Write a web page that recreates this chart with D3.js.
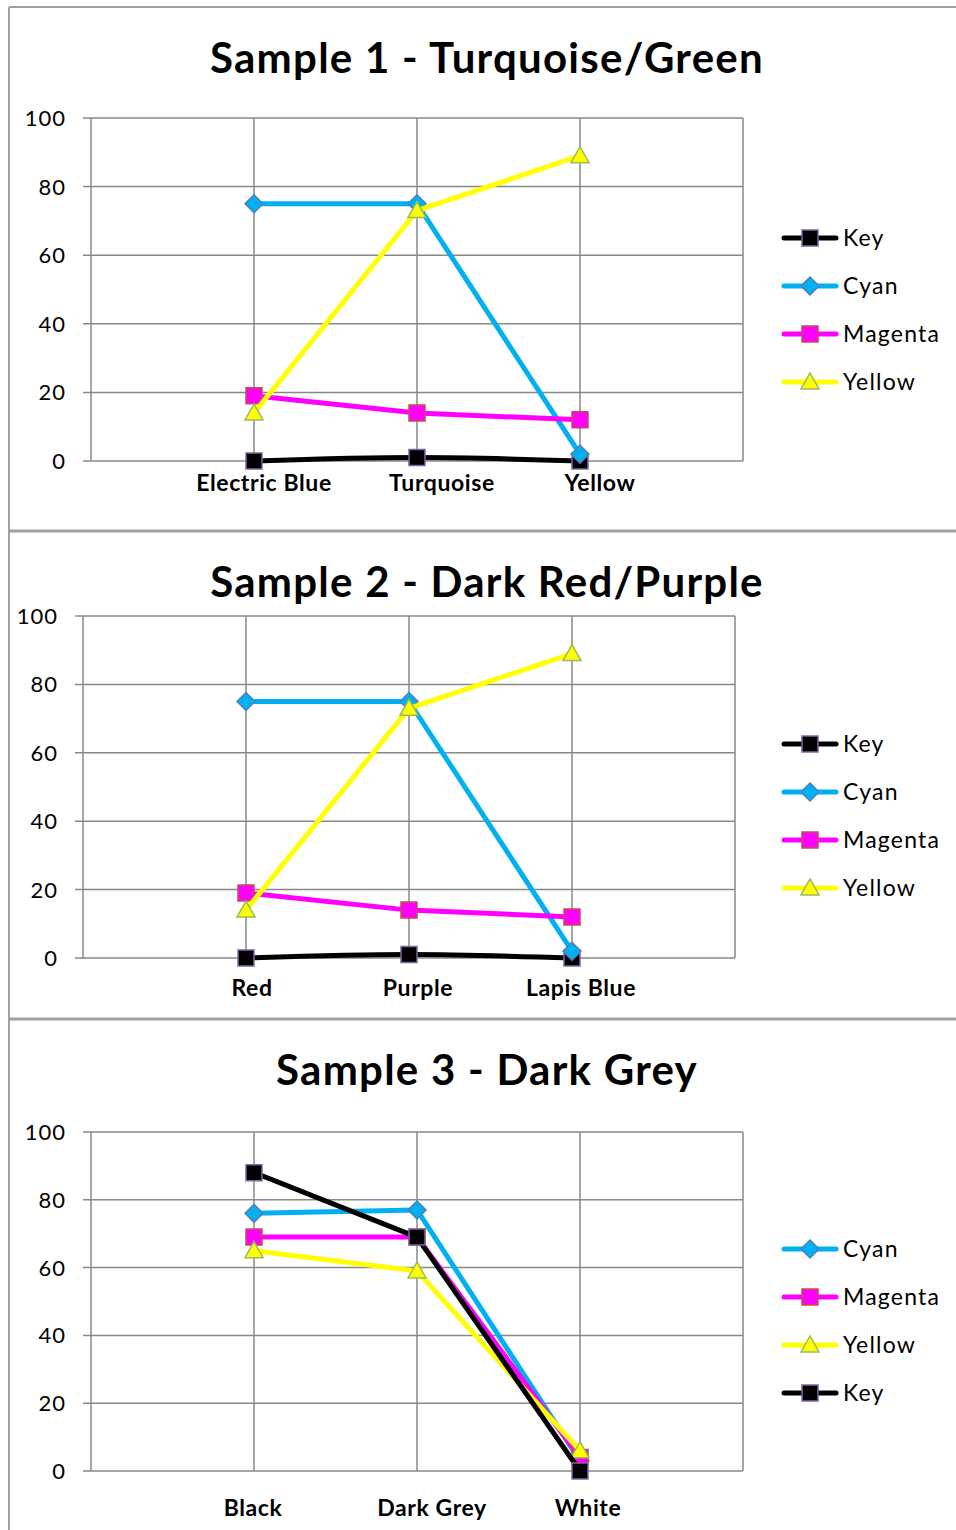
<!DOCTYPE html>
<html lang="en">
<head>
<meta charset="utf-8">
<title>CMYK Samples</title>
<script src="https://cdn.jsdelivr.net/npm/d3@7/dist/d3.min.js"></script>
<style>
  body { margin: 0; background: #fff; }
  svg { display: block; font-family: Lato, "Noto Sans", sans-serif; }
  .title { font-size: 42px; font-weight: 700; fill: #000; text-anchor: middle; letter-spacing: 1.25px; }
  .ylab { font-size: 22px; fill: #000; text-anchor: end; letter-spacing: 1px; }
  .xlab { font-size: 23px; font-weight: 700; fill: #000; text-anchor: middle; letter-spacing: 0.6px; }
  .leg { font-size: 23px; fill: #000; letter-spacing: 1.2px; }
</style>
</head>
<body>
<div id="chart"></div>
<script>
// ---- data ----
var yTicks = [0, 20, 40, 60, 80, 100];

var title1 = "Sample 1 - Turquoise/Green";
var categories1 = ["Electric Blue", "Turquoise", "Yellow"];
var key1 = [0, 1, 0];
var cyan1 = [75, 75, 2];
var magenta1 = [19, 14, 12];
var yellow1 = [14, 73, 89];

var title2 = "Sample 2 - Dark Red/Purple";
var categories2 = ["Red", "Purple", "Lapis Blue"];
var key2 = [0, 1, 0];
var cyan2 = [75, 75, 2];
var magenta2 = [19, 14, 12];
var yellow2 = [14, 73, 89];

var title3 = "Sample 3 - Dark Grey";
var categories3 = ["Black", "Dark Grey", "White"];
var cyan3 = [76, 77, 3];
var magenta3 = [69, 69, 4];
var yellow3 = [65, 59, 6];
var key3 = [88, 69, 0];

// ---- styles per series ----
var styles = {
  Key:     { line: "#000000", fill: "#000000", stroke: "#8064a2", shape: "square" },
  Cyan:    { line: "#00b0f0", fill: "#00b0f0", stroke: "#4f81bd", shape: "diamond" },
  Magenta: { line: "#ff00ff", fill: "#ff00ff", stroke: "#c0504d", shape: "square" },
  Yellow:  { line: "#ffff00", fill: "#ffff00", stroke: "#9bbb59", shape: "triangle" }
};

var panels = [
  { title: title1, titleY: 73, cats: categories1, left: 91, right: 743, top: 118, bottom: 461,
    labelY: 491, labelDx: [10, 25, 20], legendY: 238, smoothKey: true,
    series: [["Key", key1], ["Cyan", cyan1], ["Magenta", magenta1], ["Yellow", yellow1]] },
  { title: title2, titleY: 597, cats: categories2, left: 83, right: 735, top: 616, bottom: 958,
    labelY: 996, labelDx: [6, 9, 9], legendY: 744, smoothKey: true,
    series: [["Key", key2], ["Cyan", cyan2], ["Magenta", magenta2], ["Yellow", yellow2]] },
  { title: title3, titleY: 1085, cats: categories3, left: 91, right: 743, top: 1132, bottom: 1471,
    labelY: 1516, labelDx: [-1, 15, 8], legendY: 1249, smoothKey: false,
    series: [["Cyan", cyan3], ["Magenta", magenta3], ["Yellow", yellow3], ["Key", key3]] }
];

var W = 956, H = 1530;
var svg = d3.select("#chart").append("svg").attr("width", W).attr("height", H);

// outer frame and panel dividers
var frame = svg.append("g").attr("stroke", "#a0a0a0").attr("fill", "none");
frame.append("line").attr("x1", 9).attr("x2", W).attr("y1", 7).attr("y2", 7).attr("stroke-width", 2);
frame.append("line").attr("x1", 9).attr("x2", 9).attr("y1", 7).attr("y2", H).attr("stroke-width", 2);
[531, 1019].forEach(function(y) {
  frame.append("line").attr("x1", 9).attr("x2", W).attr("y1", y).attr("y2", y).attr("stroke-width", 3);
});

function markerPath(shape) {
  if (shape === "square") return "M-8,-8H8V8H-8Z";
  if (shape === "diamond") return "M0,-9L9,0L0,9L-9,0Z";
  return "M0,-9L9,7H-9Z";
}

panels.forEach(function(p) {
  var g = svg.append("g");
  var x = d3.scaleLinear().domain([0, p.cats.length + 1]).range([p.left, p.right]);
  var y = d3.scaleLinear().domain([0, 100]).range([p.bottom, p.top]);

  g.append("text").attr("class", "title").attr("x", 487).attr("y", p.titleY).text(p.title);

  // horizontal gridlines with short ticks on the left
  g.selectAll(".hgrid").data(yTicks).enter().append("line")
    .attr("x1", p.left - 8).attr("x2", p.right)
    .attr("y1", function(d) { return y(d); }).attr("y2", function(d) { return y(d); })
    .attr("stroke", "#888").attr("stroke-width", 1.5);

  // vertical gridlines at categories, plus plot edges
  var vx = [0].concat(d3.range(1, p.cats.length + 1)).concat([p.cats.length + 1]);
  g.selectAll(".vgrid").data(vx).enter().append("line")
    .attr("x1", function(d) { return x(d); }).attr("x2", function(d) { return x(d); })
    .attr("y1", p.top).attr("y2", p.bottom)
    .attr("stroke", "#888").attr("stroke-width", 1.5);

  g.selectAll(".ylab").data(yTicks).enter().append("text")
    .attr("class", "ylab")
    .attr("x", p.left - 25)
    .attr("y", function(d) { return y(d) + 8; })
    .text(function(d) { return d; });

  g.selectAll(".xlab").data(p.cats).enter().append("text")
    .attr("class", "xlab")
    .attr("x", function(d, i) { return x(i + 1) + p.labelDx[i]; })
    .attr("y", p.labelY)
    .text(function(d) { return d; });

  p.series.forEach(function(s) {
    var name = s[0], vals = s[1], st = styles[name];
    var line = d3.line()
      .x(function(d, i) { return x(i + 1); })
      .y(function(d) { return y(d); })
      .curve(name === "Key" && p.smoothKey ? d3.curveMonotoneX : d3.curveLinear);
    g.append("path").datum(vals).attr("d", line)
      .attr("fill", "none").attr("stroke", st.line).attr("stroke-width", 5)
      .attr("stroke-linejoin", "round");
    g.selectAll(null).data(vals).enter().append("path")
      .attr("d", markerPath(st.shape))
      .attr("transform", function(d, i) { return "translate(" + x(i + 1) + "," + y(d) + ")"; })
      .attr("fill", st.fill).attr("stroke", st.stroke).attr("stroke-width", 1.5);
  });

  // legend
  p.series.forEach(function(s, i) {
    var st = styles[s[0]], ly = p.legendY + i * 48;
    g.append("line").attr("x1", 784).attr("x2", 836).attr("y1", ly).attr("y2", ly)
      .attr("stroke", st.line).attr("stroke-width", 5).attr("stroke-linecap", "round");
    g.append("path").attr("d", markerPath(st.shape))
      .attr("transform", "translate(810," + ly + ")")
      .attr("fill", st.fill).attr("stroke", st.stroke).attr("stroke-width", 1.5);
    g.append("text").attr("class", "leg").attr("x", 843).attr("y", ly + 8).text(s[0]);
  });
});
</script>
</body>
</html>
